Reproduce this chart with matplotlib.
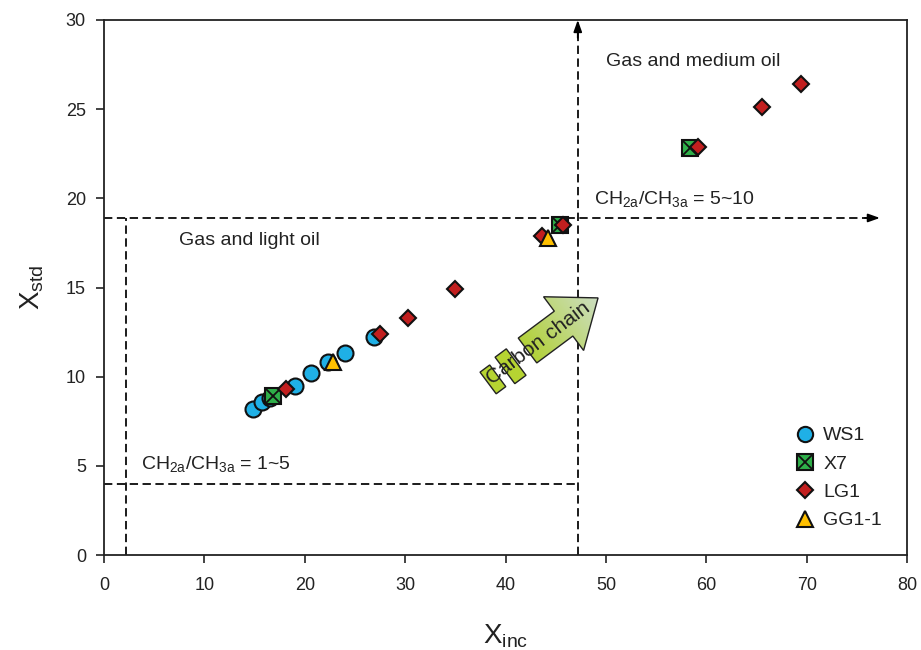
import numpy as np
import matplotlib
matplotlib.use("Agg")
import matplotlib.pyplot as plt
from matplotlib.patches import Polygon
from matplotlib.lines import Line2D

plt.rcParams['font.family'] = ['Liberation Sans', 'DejaVu Sans']
plt.rcParams['mathtext.fontset'] = 'custom'
plt.rcParams['mathtext.rm'] = 'Liberation Sans'
plt.rcParams['mathtext.it'] = 'Liberation Sans'

# ---- data ----
ws1_x = [14.8, 15.7, 16.5, 19.0, 20.6, 22.3, 24.0, 26.9]
ws1_y = [8.2, 8.6, 8.8, 9.5, 10.2, 10.8, 11.3, 12.2]
x7_x = [16.8, 45.4, 58.4]
x7_y = [8.9, 18.5, 22.8]
lg1_x = [18.1, 27.5, 30.3, 35.0, 43.6, 45.7, 59.2, 65.6, 69.4]
lg1_y = [9.3, 12.4, 13.3, 14.9, 17.9, 18.5, 22.9, 25.1, 26.4]
gg_x = [22.8, 44.2]
gg_y = [10.8, 17.8]

x_ticks = [0, 10, 20, 30, 40, 50, 60, 70, 80]
y_ticks = [0, 5, 10, 15, 20, 25, 30]

TXT = '#222222'
fig = plt.figure(figsize=(9.21, 6.5), dpi=100)
ax = fig.add_axes([104/921, 95/650, 803/921, 535/650])
ax.set_xlim(0, 80)
ax.set_ylim(0, 30)
ax.set_xticks(x_ticks)
ax.set_yticks(y_ticks)
ax.tick_params(direction='out', length=6, width=1.2, labelsize=13, colors=TXT)
ax.tick_params(axis='x', pad=10)
ax.tick_params(axis='y', pad=7)
for s in ax.spines.values():
    s.set_linewidth(1.3)
    s.set_color(TXT)

ds = (0, (4.8, 2.6))
lw = 1.25
ax.plot([2.2, 2.2], [0, 18.9], color='black', ls=ds, lw=lw, zorder=1)
ax.plot([0, 47.2], [4, 4], color='black', ls=ds, lw=lw, zorder=1)
ax.plot([0, 76.5], [18.9, 18.9], color='black', ls=ds, lw=lw, zorder=1)
ax.plot([47.2, 47.2], [0, 29.5], color='black', ls=ds, lw=lw, zorder=1)
ap = dict(arrowstyle='-|>,head_length=0.7,head_width=0.25', color='black', lw=lw,
          shrinkA=0, shrinkB=0)
ax.annotate('', xy=(77.3, 18.9), xytext=(75.8, 18.9), arrowprops=ap)
ax.annotate('', xy=(47.2, 30), xytext=(47.2, 29.0), arrowprops=ap)

# texts
ax.text(58.7, 27.7, 'Gas and medium oil', fontsize=14, ha='center', va='center', color=TXT)
ax.text(14.5, 17.65, 'Gas and light oil', fontsize=14, ha='center', va='center', color=TXT)
ax.text(48.8, 19.95, r'CH$_{2a}$/CH$_{3a}$ = 5~10', fontsize=14, ha='left', va='center', color=TXT)
ax.text(3.7, 5.1, r'CH$_{2a}$/CH$_{3a}$ = 1~5', fontsize=14, ha='left', va='center', color=TXT)

# ---- carbon chain arrow (built in display px, converted to data) ----
fig.canvas.draw()
inv = ax.transData.inverted()
ang = np.deg2rad(36.7)
u = np.array([np.cos(ang), np.sin(ang)])
v = np.array([-np.sin(ang), np.cos(ang)])
origin = np.array([527.5, 650 - 350.5])

def to_data(pts):
    disp = np.array([origin + a * u + b * v for a, b in pts])
    return inv.transform(disp)

L = 88.0
arrow_pts = [(0, -15.5), (45, -15.5), (45, -33.5), (L, 0), (45, 33.5), (45, 15.5), (0, 15.5)]
stripe1 = [(-30, -19), (-16, -19), (-16, 14), (-30, 14)]
stripe2 = [(-51, -16), (-39, -16), (-39, 11), (-51, 11)]

c_tail = np.array([0.70, 0.82, 0.22])
c_tip = np.array([0.80, 0.87, 0.76])

for pts in [stripe2, stripe1]:
    ax.add_patch(Polygon(to_data(pts), closed=True, facecolor='#b6d432',
                         edgecolor='#222222', lw=1.0, zorder=3))

arrow_data = to_data(arrow_pts)
poly = Polygon(arrow_data, closed=True, facecolor='none', edgecolor='#222222', lw=1.0, zorder=4)
ax.add_patch(poly)
xmin, ymin = arrow_data.min(axis=0)
xmax, ymax = arrow_data.max(axis=0)
nx, ny = 200, 200
gx = np.linspace(xmin, xmax, nx)
gy = np.linspace(ymin, ymax, ny)
GX, GY = np.meshgrid(gx, gy)
disp = ax.transData.transform(np.column_stack([GX.ravel(), GY.ravel()]))
t = ((disp - origin) @ u) / L
t = np.clip(t, 0, 1).reshape(ny, nx)
img = c_tail[None, None, :] * (1 - t[..., None]) + c_tip[None, None, :] * t[..., None]
im = ax.imshow(img, extent=(xmin, xmax, ymin, ymax), origin='lower', aspect='auto',
               zorder=3.5, interpolation='bilinear')
fill_clip = Polygon(arrow_data, closed=True, transform=ax.transData, facecolor='none', edgecolor='none')
im.set_clip_path(fill_clip)
ax.set_xlim(0, 80)
ax.set_ylim(0, 30)

tc = inv.transform([[538.5, 650 - 343]])[0]
ax.text(tc[0], tc[1], 'Carbon chain', rotation=37, fontsize=15, ha='center', va='center',
        color=TXT, zorder=5, rotation_mode='anchor')

# ---- scatter ----
ec = '#111111'
ax.plot(ws1_x, ws1_y, 'o', ms=11.5, mfc='#1fb0e6', mec=ec, mew=1.5, zorder=6)
ax.plot(x7_x, x7_y, 's', ms=11, mfc='#2fb04a', mec=ec, mew=1.5, zorder=7)
ax.plot(x7_x, x7_y, 'x', ms=10, mec=ec, mew=1.3, zorder=7)
ax.plot(lg1_x, lg1_y, 'D', ms=8.5, mfc='#c21f1f', mec=ec, mew=1.5, zorder=8)
ax.plot(gg_x, gg_y, '^', ms=11, mfc='#ffc000', mec=ec, mew=1.5, zorder=9)

h_ws = Line2D([], [], marker='o', ls='none', ms=11, mfc='#1fb0e6', mec=ec, mew=1.5)
h_x7a = Line2D([], [], marker='s', ls='none', ms=11, mfc='#2fb04a', mec=ec, mew=1.5)
h_x7b = Line2D([], [], marker='x', ls='none', ms=10, mec=ec, mew=1.3)
h_lg = Line2D([], [], marker='D', ls='none', ms=8.5, mfc='#c21f1f', mec=ec, mew=1.5)
h_gg = Line2D([], [], marker='^', ls='none', ms=11, mfc='#ffc000', mec=ec, mew=1.5)
leg = ax.legend([h_ws, (h_x7a, h_x7b), h_lg, h_gg], ['WS1', 'X7', 'LG1', 'GG1-1'],
                loc='upper left', bbox_to_anchor=(0.851, 0.254), frameon=False,
                fontsize=14, handlelength=1.0, handletextpad=0.45, labelspacing=0.55,
                borderaxespad=0)
for txt in leg.get_texts():
    txt.set_color(TXT)

ax.set_xlabel(r'X$_{\mathregular{inc}}$', fontsize=20, color=TXT)
ax.set_ylabel(r'X$_{\mathregular{std}}$', fontsize=20, color=TXT)
ax.xaxis.set_label_coords(0.5, (555 - 622) / 535)
ax.yaxis.set_label_coords((46 - 104) / 803, 0.5)

fig.savefig('out.png', dpi=100)
